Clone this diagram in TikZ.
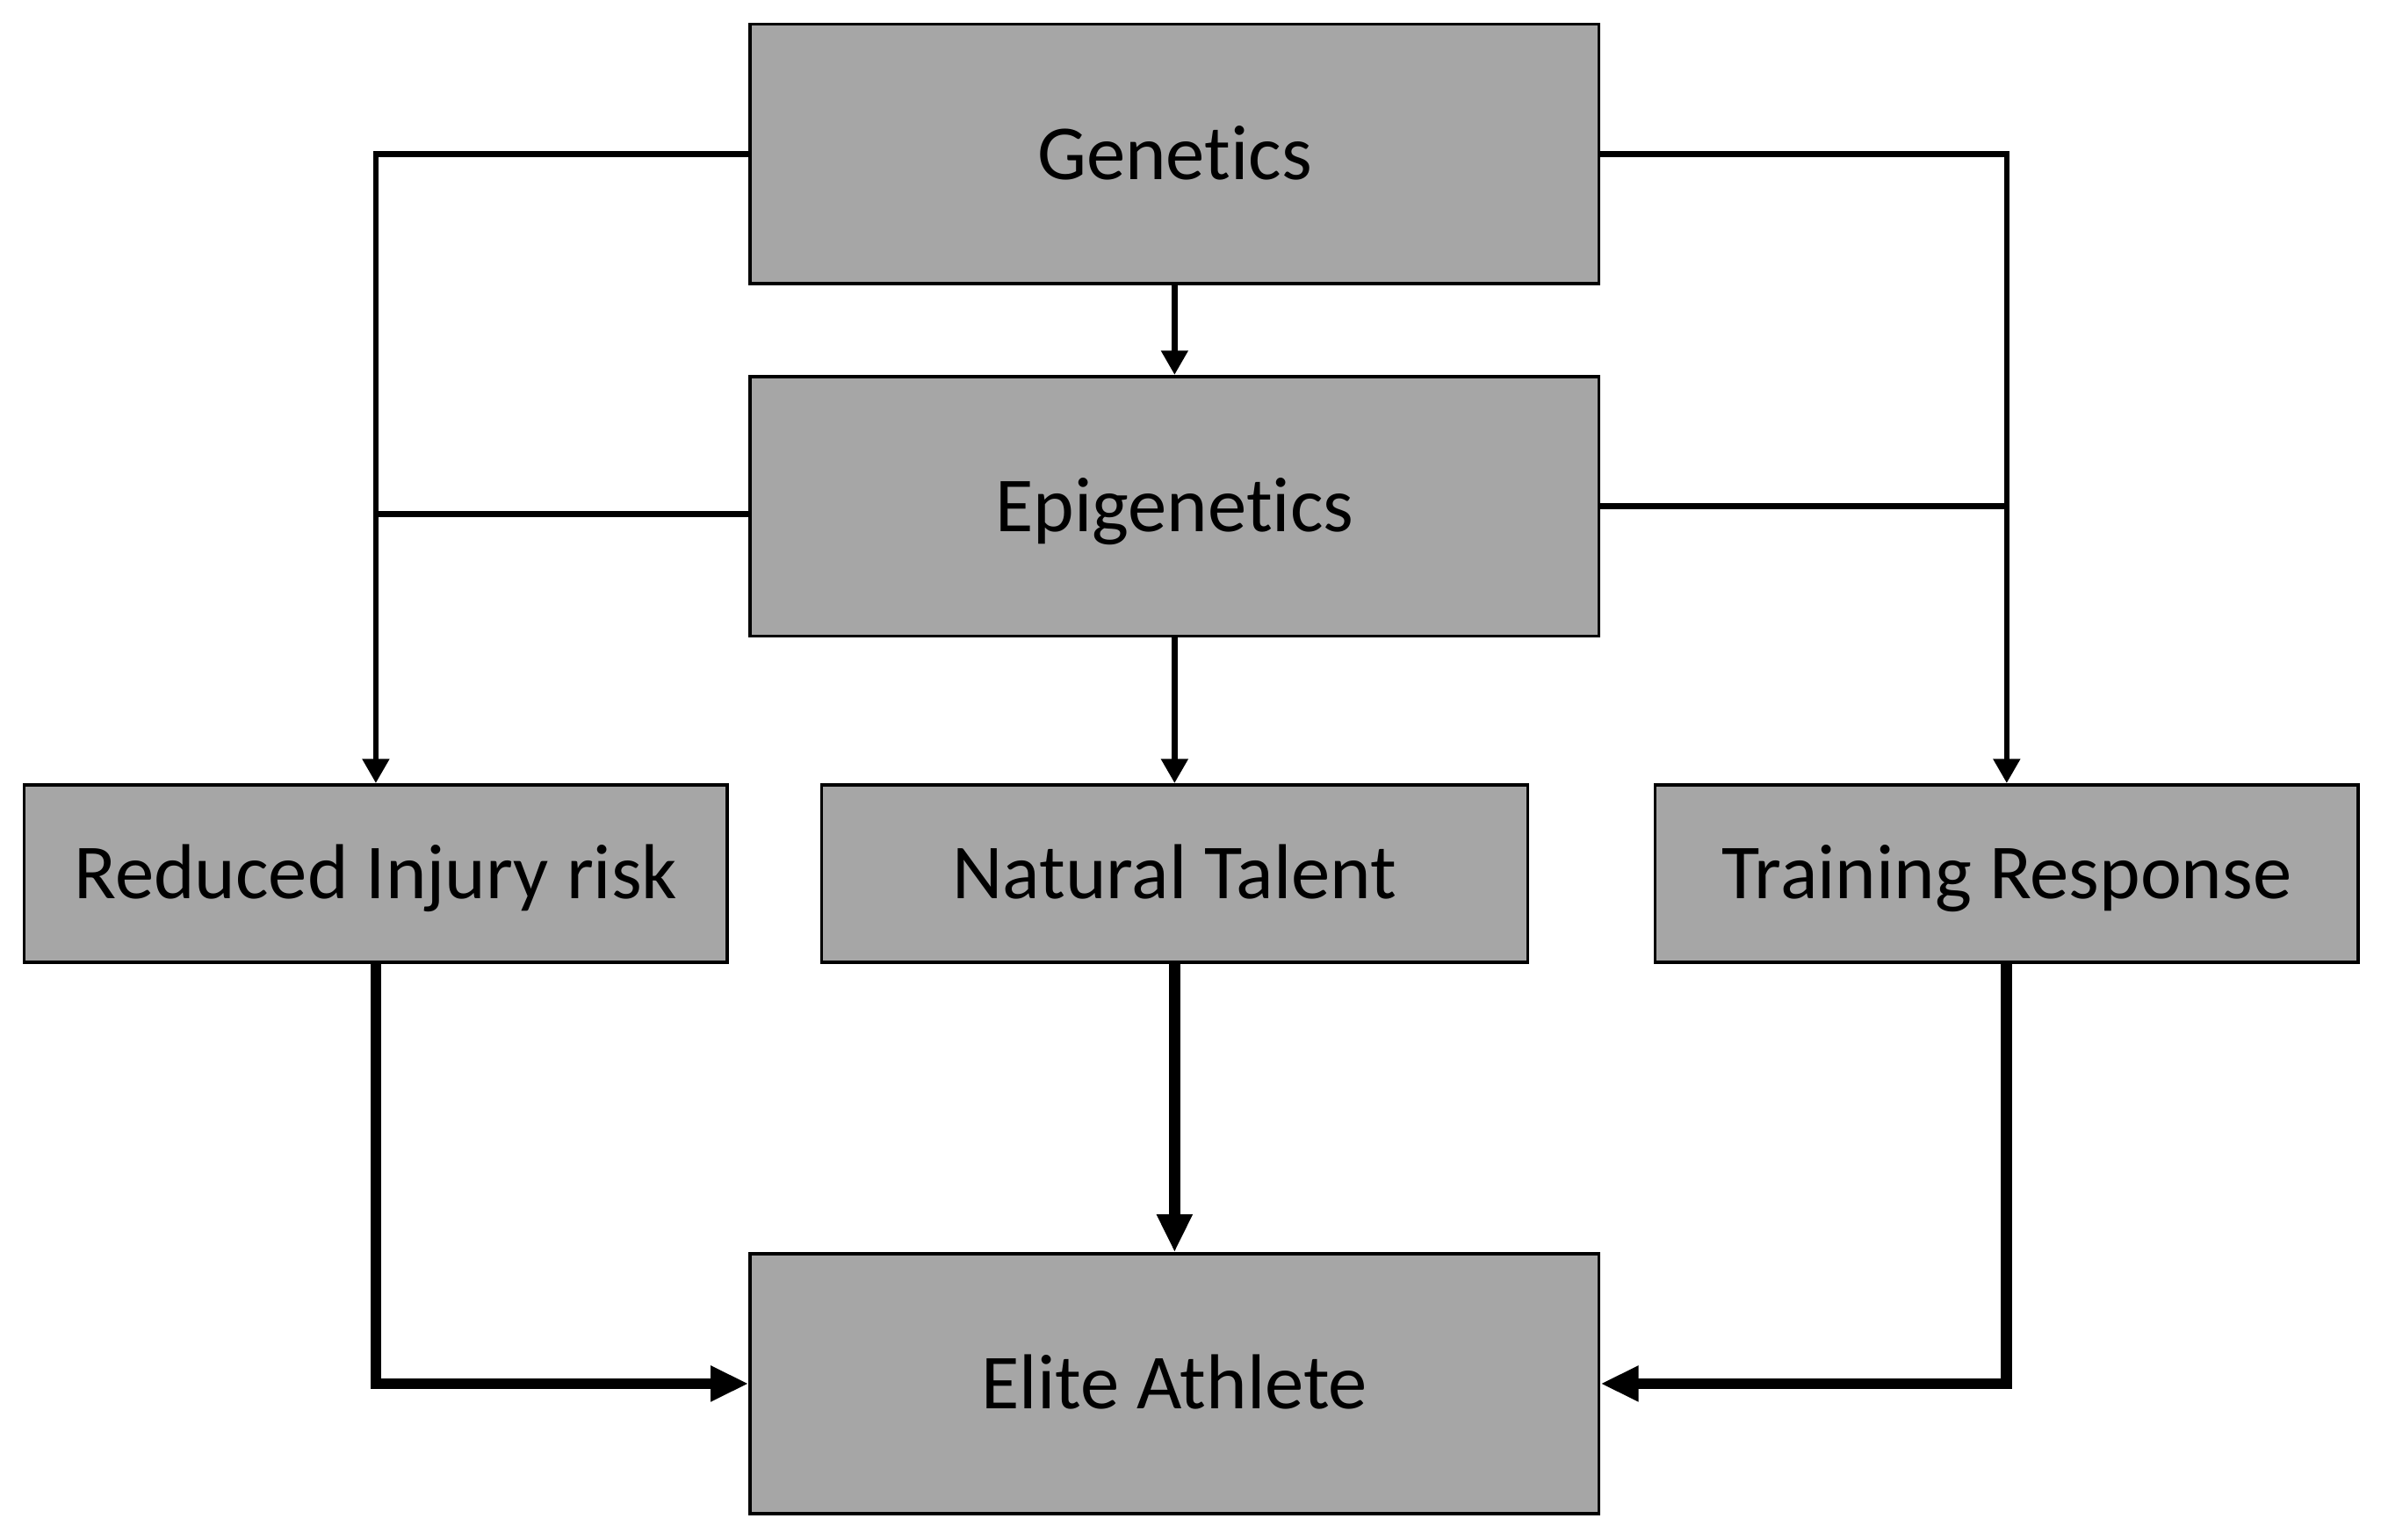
\documentclass[tikz,border=0pt]{standalone}
\usepackage{fontspec}
\setmainfont[Ligatures=NoCommon]{Carlito}
\usetikzlibrary{arrows.meta}
\definecolor{boxgray}{RGB}{166,166,166}
\tikzset{
	box/.style={draw=black, line width=0.6pt, fill=boxgray, inner sep=0pt,
		text height=9.4pt, text depth=0pt,
		font=\fontsize{14.6}{17}\selectfont},
	bigbox/.style={box, minimum width=5.59cm, minimum height=1.71cm},
	smallbox/.style={box, minimum width=4.63cm, minimum height=1.17cm},
	thinarrow/.style={line width=1.1pt, -{Triangle[length=1.6mm, width=1.7mm]}},
	thinline/.style={line width=1.1pt},
	thickarrow/.style={line width=2.1pt, -{Triangle[length=2.5mm, width=2.2mm]}}
}

\begin{document}
\begin{tikzpicture}
			%%%%% START %%%%%
			\useasboundingbox (0, 0) rectangle (15.68, 10.14);
			
			\node[bigbox] (gen) at (7.735, 9.125) {Genetics};
			\node[bigbox] (epi) at (7.735, 6.805) {Epigenetics};
			
			\node[smallbox] (inj) at (2.475, 4.385) {Reduced Injury risk};
			\node[smallbox, minimum width=4.65cm] (tal) at (7.735, 4.385) {Natural Talent};
			\node[smallbox] (trn) at (13.215, 4.385) {Training Response};
			
			\node[bigbox] (ath) at (7.735, 1.025) {Elite Athlete};
			
			% upper level
			\draw[thinarrow] (gen.south) -- (epi.north);
			\draw[thinarrow] (epi.south) -- (tal.north);
			\draw[thinarrow] (gen.west) -| (inj.north);
			\draw[thinline] ([yshift=-0.5mm]epi.west) -- ([yshift=-0.5mm]epi.west -| inj.north);
			\draw[thinarrow] (gen.east) -| (trn.north);
			\draw[thinline] (epi.east) -- (epi.east -| trn.north);
			
			% lower level
			\draw[thickarrow] (inj.south) |- (ath.west);
			\draw[thickarrow] (tal.south) -- (ath.north);
			\draw[thickarrow] (trn.south) |- (ath.east);
			
			%%%%% END %%%%%
		\end{tikzpicture}
\end{document}
